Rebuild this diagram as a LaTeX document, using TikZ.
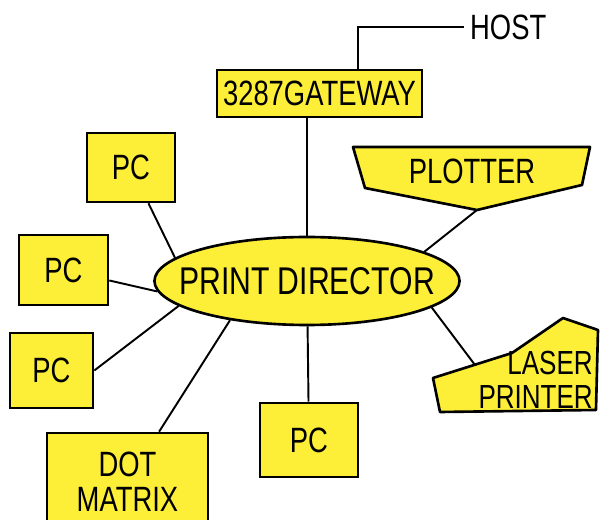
\documentclass[tikz,border=0pt]{standalone}
\usepackage{fontspec}
\newfontfamily\hand[FakeStretch=0.78]{Liberation Sans}
\usepackage{tikz}
\usetikzlibrary{shapes.geometric,positioning}
\tikzset{
  devbox/.style={rectangle, draw=black, fill=padyellow, line width=1.5pt, inner sep=2pt, align=center, font=\hand\fontsize{20}{20}\selectfont},
  hub/.style={ellipse, draw=black, fill=padyellow, line width=1.5pt, minimum width=6cm, minimum height=1.76cm, inner xsep=-0.4cm, inner ysep=0.3cm, font=\hand\fontsize{22}{24}\selectfont},
  devshape/.style={draw=black, fill=padyellow, line width=1.5pt, line join=round},
  lbl/.style={align=center, font=\hand\fontsize{20}{18}\selectfont},
  wire/.style={line width=1.1pt, black}
}
\definecolor{padyellow}{RGB}{253,238,55}

\begin{document}
\begin{tikzpicture}[x=0.02cm, y=-0.02cm]
\useasboundingbox[fill=white] (0,0) rectangle (600,520);
\draw[devshape] (353,147) -- (590,147) -- (582,185) -- (477,210) -- (365,188) -- cycle;
\draw[devshape] (433,378) -- (512,353) -- (563,318) -- (598,330) -- (596,410) -- (440,412) -- cycle;
\coordinate (plottip) at (477,210);
\coordinate (laserjoin) at (475,365);
\coordinate (hostturn) at (358,27);
\node[hub] (director) at (307,281) {PRINT DIRECTOR};
\node[devbox, minimum width=4.1cm, minimum height=0.94cm] (gateway) at (319.5,93.5) {3287GATEWAY};
\node[devbox, minimum width=1.76cm, minimum height=1.38cm] (pca) at (131,167.5) {PC};
\node[devbox, minimum width=1.78cm, minimum height=1.4cm] (pcb) at (63.5,270) {PC};
\node[devbox, minimum width=1.66cm, minimum height=1.5cm] (pcc) at (51.5,370.5) {PC};
\node[devbox, minimum width=1.96cm, minimum height=1.48cm] (pcd) at (309,440) {PC};
\node[devbox, minimum width=3.22cm, minimum height=1.94cm] (dotmatrix) at (127.5,481.5) {DOT\\MATRIX};
\node[lbl] (plotter) at (472,171) {PLOTTER};
\node[lbl, align=right, anchor=east, font=\hand\fontsize{19}{19}\selectfont] (laser) at (599,380) {LASER\\PRINTER};
\node[lbl, anchor=west] (host) at (464,27) {HOST};
\draw[wire] (gateway.north -| hostturn) -- (hostturn) -- (host.west);
\draw[wire] (director.north) -- (director.north |- gateway.south);
\draw[wire] (pca) -- (director.170);
\draw[wire] (pcb) -- (director.184);
\draw[wire] (pcc.east) -- (director.191);
\draw[wire] (dotmatrix) -- (director.207);
\draw[wire] (pcd) -- (director);
\draw[wire] (director.14) -- (plottip);
\draw[wire] (director.348) -- (laserjoin);
\end{tikzpicture}
\end{document}
